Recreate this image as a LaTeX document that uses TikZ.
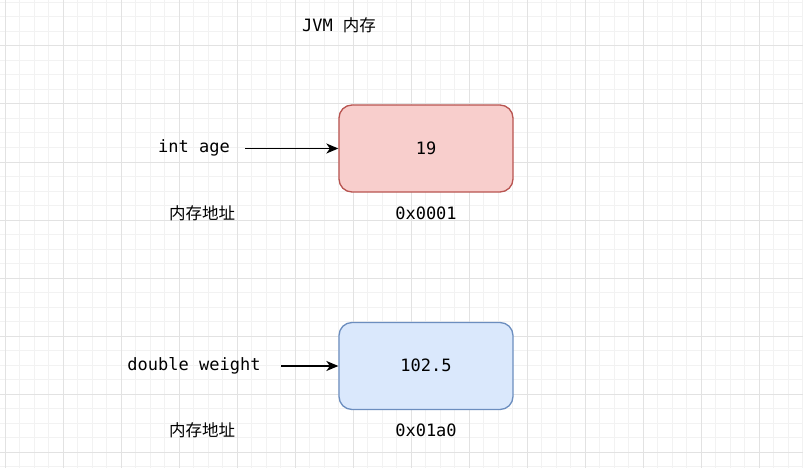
\documentclass[tikz,border=0pt]{standalone}
\usepackage{fontspec}
\setmonofont{DejaVu Sans Mono}
\newfontfamily\cjk{Noto Sans CJK SC}
\usetikzlibrary{arrows.meta}

\definecolor{minorline}{HTML}{F2F2F2}
\definecolor{majorline}{HTML}{E2E2E2}
\definecolor{redfill}{HTML}{F8CECC}
\definecolor{redline}{HTML}{B85450}
\definecolor{bluefill}{HTML}{DAE8FC}
\definecolor{blueline}{HTML}{6C8EBF}

\tikzset{
    cell/.style={draw,line width=1.3pt,rounded corners=13pt,minimum width=174pt,minimum height=87pt,inner sep=0},
    label/.style={inner sep=0,font=\codefontsize\ttfamily},
    ptr/.style={line width=1.4pt,-{Stealth[length=12pt,width=10pt,inset=3.5pt]}}
}
\providecommand{\codefontsize}{\fontsize{17}{20}\selectfont}
\providecommand{\cjkfontsize}{\fontsize{16.5}{20}\selectfont}

\begin{document}
\begin{tikzpicture}[x=1pt,y=-1pt]
    \pgfmathsetmacro{\gridstep}{14.5}
    \useasboundingbox (0,0) rectangle (803,468);
    \fill[white] (0,0) rectangle (803,468);
    % grid
    \foreach \k in {0,...,55} \draw[minorline,line width=1pt] (5+\k*\gridstep,0) -- (5+\k*\gridstep,468);
    \foreach \k in {0,...,32} \draw[minorline,line width=1pt] (0,2.5+\k*\gridstep) -- (803,2.5+\k*\gridstep);
    \foreach \k in {0,...,13} \draw[majorline,line width=1pt] (5+\k*4*\gridstep,0) -- (5+\k*4*\gridstep,468);
    \foreach \k in {0,...,7} \draw[majorline,line width=1pt] (0,46+\k*4*\gridstep) -- (803,46+\k*4*\gridstep);

    \node[label] (title) at (339,25.5) {JVM {\cjk\cjkfontsize 内存}};

    \node[cell,fill=redfill,draw=redline] (agecell) at (426,148.5) {};
    \node[label] (agevalue) at (426,148) {19};
    \node[label] (agename) at (194,148) {int age};
    \coordinate (agetail) at (245,148.5);
    \draw[ptr] (agetail) -- (agecell.west);
    \node[label,font=\cjk\cjkfontsize] (ageaddrlabel) at (202,213) {内存地址};
    \node[label] (ageaddr) at (426,213) {0x0001};

    \node[cell,fill=bluefill,draw=blueline] (weightcell) at (426,366) {};
    \node[label] (weightvalue) at (426,365.5) {102.5};
    \node[label] (weightname) at (194,365.5) {double weight};
    \coordinate (weighttail) at (281,366);
    \draw[ptr] (weighttail) -- (weightcell.west);
    \node[label,font=\cjk\cjkfontsize] (weightaddrlabel) at (202,430) {内存地址};
    \node[label] (weightaddr) at (426,430) {0x01a0};
\end{tikzpicture}
\end{document}
